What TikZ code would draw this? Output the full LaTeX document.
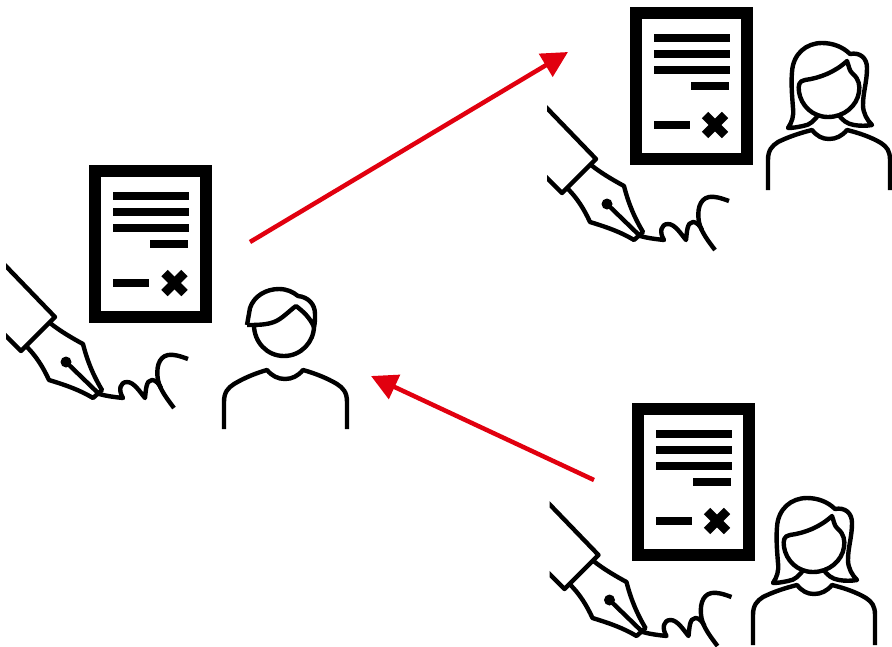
\documentclass[tikz,border=0pt]{standalone}
\usepackage{xcolor}
\usetikzlibrary{arrows.meta}
\definecolor{flowred}{RGB}{225, 0, 15}

\begin{document}
\begin{tikzpicture}[
    x=0.02cm, y=-0.02cm,
    ink/.style={draw=black, line width=0.088cm, line join=round},
    inkbar/.style={fill=black},
    flow/.style={draw=flowred, line width=0.09cm,
                 -{Triangle[length=0.52cm, width=0.52cm]}},
    signedsheet/.pic={
        % pixel origin at top left of the left-hand copy
        \draw[line width=0.24cm, draw=black] (95,171) rectangle (206,317);
        \fill[inkbar] (113,192) rectangle (189,200);
        \fill[inkbar] (113,208) rectangle (189,216);
        \fill[inkbar] (113,224) rectangle (189,232);
        \fill[inkbar] (150,240) rectangle (188,248);
        \fill[inkbar] (113,279) rectangle (149,287);
        \draw[line width=0.18cm] (164.5,273) -- (184.5,293);
        \draw[line width=0.18cm] (184.5,273) -- (164.5,293);
    },
    signingpen/.pic={
        \begin{scope}
        \clip (6,250) rectangle (200,420);
        \draw[ink] (0,260) -- (55,317) -- (21,351) -- (0,330);
        \end{scope}
        \draw[ink] (50,323) .. controls (60,331) and (72,338) .. (83,344)
                   .. controls (87,360) and (93,375) .. (102,390) -- (93,398)
                   .. controls (78,389) and (62,384) .. (49,380)
                   .. controls (43,367) and (36,356) .. (27,347);
        \draw[ink] (98,393) -- (66,362);
        \fill (66,362) circle (5.5);
        % signature
        \draw[ink] (96,393) .. controls (105,396) and (114,397) .. (123,398)
                   .. controls (118,390) and (120,382) .. (127,382)
                   .. controls (134,382) and (140,392) .. (145,398)
                   .. controls (146,390) and (146,380) .. (152,380)
                   .. controls (156,380) and (159,384) .. (161,388);
        \draw[ink] (188,359) .. controls (180,356) and (173,354) .. (168,355)
                   .. controls (158,357) and (156,369) .. (158,380)
                   .. controls (160,390) and (168,400) .. (174,408);
    },
    personman/.pic={
        \draw[ink] (224,429) -- (224,402) .. controls (224,392) and (228,388) .. (234,384)
                   .. controls (244,378) and (256,373) .. (267,370)
                   .. controls (272,376) and (278,379) .. (285,379)
                   .. controls (292,379) and (298,376) .. (303,370)
                   .. controls (314,373) and (327,378) .. (337,384)
                   .. controls (343,388) and (347,392) .. (347,402) -- (347,429);
        \draw[ink] (254,325) .. controls (254,342) and (267,356) .. (284,356)
                   .. controls (301,356) and (314,342) .. (314,326);
        \draw[ink] (247,325) -- (250,308) .. controls (254,296) and (266,289) .. (279,289)
                   .. controls (287,289) and (293,292) .. (298,296)
                   .. controls (308,297) and (315,304) .. (315,314)
                   .. controls (315,319) and (315,323) .. (314,327)
                   .. controls (310,318) and (304,312) .. (296,306)
                   .. controls (289,311) and (282,319) .. (274,322)
                   .. controls (266,325) and (256,325) .. (247,325);
    },
    personwoman/.pic={
        \draw[ink] (768,190) -- (768,160) .. controls (768,150) and (772,146) .. (778,142)
                   .. controls (788,137) and (800,133) .. (812,130)
                   .. controls (817,136) and (822,139) .. (829,139)
                   .. controls (836,139) and (842,136) .. (847,130)
                   .. controls (859,133) and (871,137) .. (881,143)
                   .. controls (887,147) and (890,151) .. (890,160) -- (890,190);
        \draw[ink] (805,80) .. controls (820,78) and (835,72) .. (847,61)
                   .. controls (849,66) and (849,71) .. (853,74)
                   .. controls (859,79) and (860,86) .. (859,92)
                   .. controls (857,106) and (844,117) .. (828,117)
                   .. controls (812,117) and (801,105) .. (799,92)
                   .. controls (798,85) and (799,81) .. (805,80);
        \draw[ink] (819,114) .. controls (814,121) and (810,125) .. (803,126)
                   .. controls (798,127) and (793,128) .. (788,128)
                   .. controls (792,122) and (794,116) .. (793,108)
                   .. controls (792,95) and (791,84) .. (792,72)
                   .. controls (793,54) and (806,43) .. (822,43)
                   .. controls (833,43) and (843,47) .. (850,54)
                   .. controls (860,52) and (867,58) .. (867,68)
                   .. controls (867,82) and (863,92) .. (863,105)
                   .. controls (863,113) and (867,120) .. (872,125)
                   .. controls (866,126) and (860,126) .. (854,125)
                   .. controls (847,124) and (842,120) .. (838,114);
    }
]
\useasboundingbox (0,0) rectangle (892,646);

%% ── Signed sheets ─────────────────────────────────────────────────────
\pic (sheetleft)   at (0,0)        {signedsheet};
\pic (sheettop)    at (540.5,-158) {signedsheet};
\pic (sheetbottom) at (542.5,238)  {signedsheet};

%% ── Pens ──────────────────────────────────────────────────────────────
\pic (penleft)   at (0,0)        {signingpen};
\pic (pentop)    at (541,-158)   {signingpen};
\pic (penbottom) at (543.5,238)  {signingpen};

%% ── People ────────────────────────────────────────────────────────────
\pic (man)         at (0,0)     {personman};
\pic (womantop)    at (0,0)     {personwoman};
\begin{scope}
\clip (700,400) rectangle (892,645);
\pic (womanbottom) at (-15,455) {personwoman};
\end{scope}

%% ── Arrows ────────────────────────────────────────────────────────────
\coordinate (sendfrom) at (250,242);
\coordinate (sendto)   at (568,52);
\coordinate (backfrom) at (594,480);
\coordinate (backto)   at (371,376);
\draw[flow] (sendfrom) -- (sendto);
\draw[flow] (backfrom) -- (backto);
\end{tikzpicture}
\end{document}
